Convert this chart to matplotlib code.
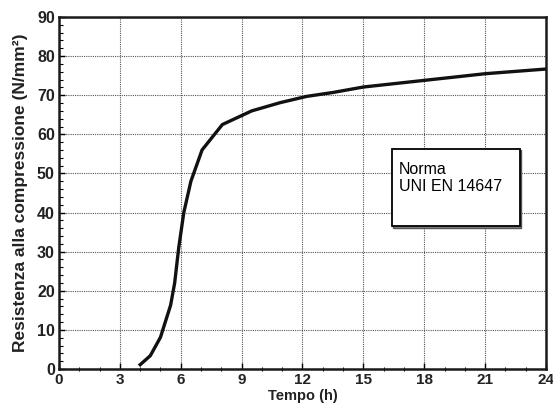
"""Compressive strength development over time (UNI EN 14647)."""

import matplotlib.pyplot as plt
from matplotlib.patches import Rectangle
from matplotlib.ticker import MultipleLocator

plt.rcParams['font.family'] = ['Liberation Sans', 'DejaVu Sans']

# curve
tempo_h = [4.0, 4.5, 5.0, 5.5, 5.7, 5.9, 6.15, 6.5, 7.05, 8.05,
           9.5, 10.9, 12.2, 13.5, 15, 18, 21, 24]
resistenza = [1.1, 3.4, 8.1, 16.3, 22.0, 31.0, 40.0, 48.0, 56.0, 62.5,
              66.0, 68.1, 69.7, 70.7, 72.1, 73.8, 75.5, 76.7]

x_ticks = [0, 3, 6, 9, 12, 15, 18, 21, 24]
y_ticks = [0, 10, 20, 30, 40, 50, 60, 70, 80, 90]

fig = plt.figure(figsize=(5.53, 4.08), dpi=100)
ax = fig.add_axes([0.1067, 0.0956, 0.8806, 0.8627])

ax.plot(tempo_h, resistenza, color='#111111', linewidth=2.4,
        solid_joinstyle='miter', zorder=3)

ax.set_xlim(0, 24)
ax.set_ylim(0, 90)
ax.set_xticks(x_ticks)
ax.set_yticks(y_ticks)
ax.xaxis.set_minor_locator(MultipleLocator(1))
ax.yaxis.set_minor_locator(MultipleLocator(2))
ax.tick_params(axis='both', which='major', labelsize=11.5, length=4,
               width=1.0, direction='in', pad=3)
ax.tick_params(axis='x', which='major', labelsize=11)
ax.tick_params(axis='y', which='minor', length=3, width=0.8, direction='in')
ax.tick_params(axis='x', which='minor', length=3, width=0.8, direction='inout')
for lab in ax.get_xticklabels() + ax.get_yticklabels():
    lab.set_fontweight('bold')
    lab.set_color('#222222')

ax.grid(True, which='major', color='#555555', linestyle=(0, (1, 1)),
        linewidth=0.8)
for sp in ax.spines.values():
    sp.set_linewidth(1.8)
    sp.set_color('#1a1a1a')

ax.set_xlabel('Tempo (h)', fontsize=10.5, fontweight='bold', labelpad=1,
              color='#222222')
ax.set_ylabel('Resistenza alla compressione (N/mm²)', fontsize=12.5,
              fontweight='bold', color='#222222')
ax.yaxis.set_label_coords(-0.064, 0.5)

# note box with its slight shadow
ax.add_patch(Rectangle((16.45, 36.0), 6.3, 20.0, facecolor='#888888',
                       edgecolor='#555555', linewidth=1.0, zorder=4))
ax.add_patch(Rectangle((16.4, 36.6), 6.3, 19.6, facecolor='white',
                       edgecolor='black', linewidth=1.3, zorder=5))
ax.text(16.75, 52.8, 'Norma\nUNI EN 14647', fontsize=11.5, va='top',
        ha='left', linespacing=1.15, zorder=6)

plt.savefig('out.png', dpi=100)
plt.close()
